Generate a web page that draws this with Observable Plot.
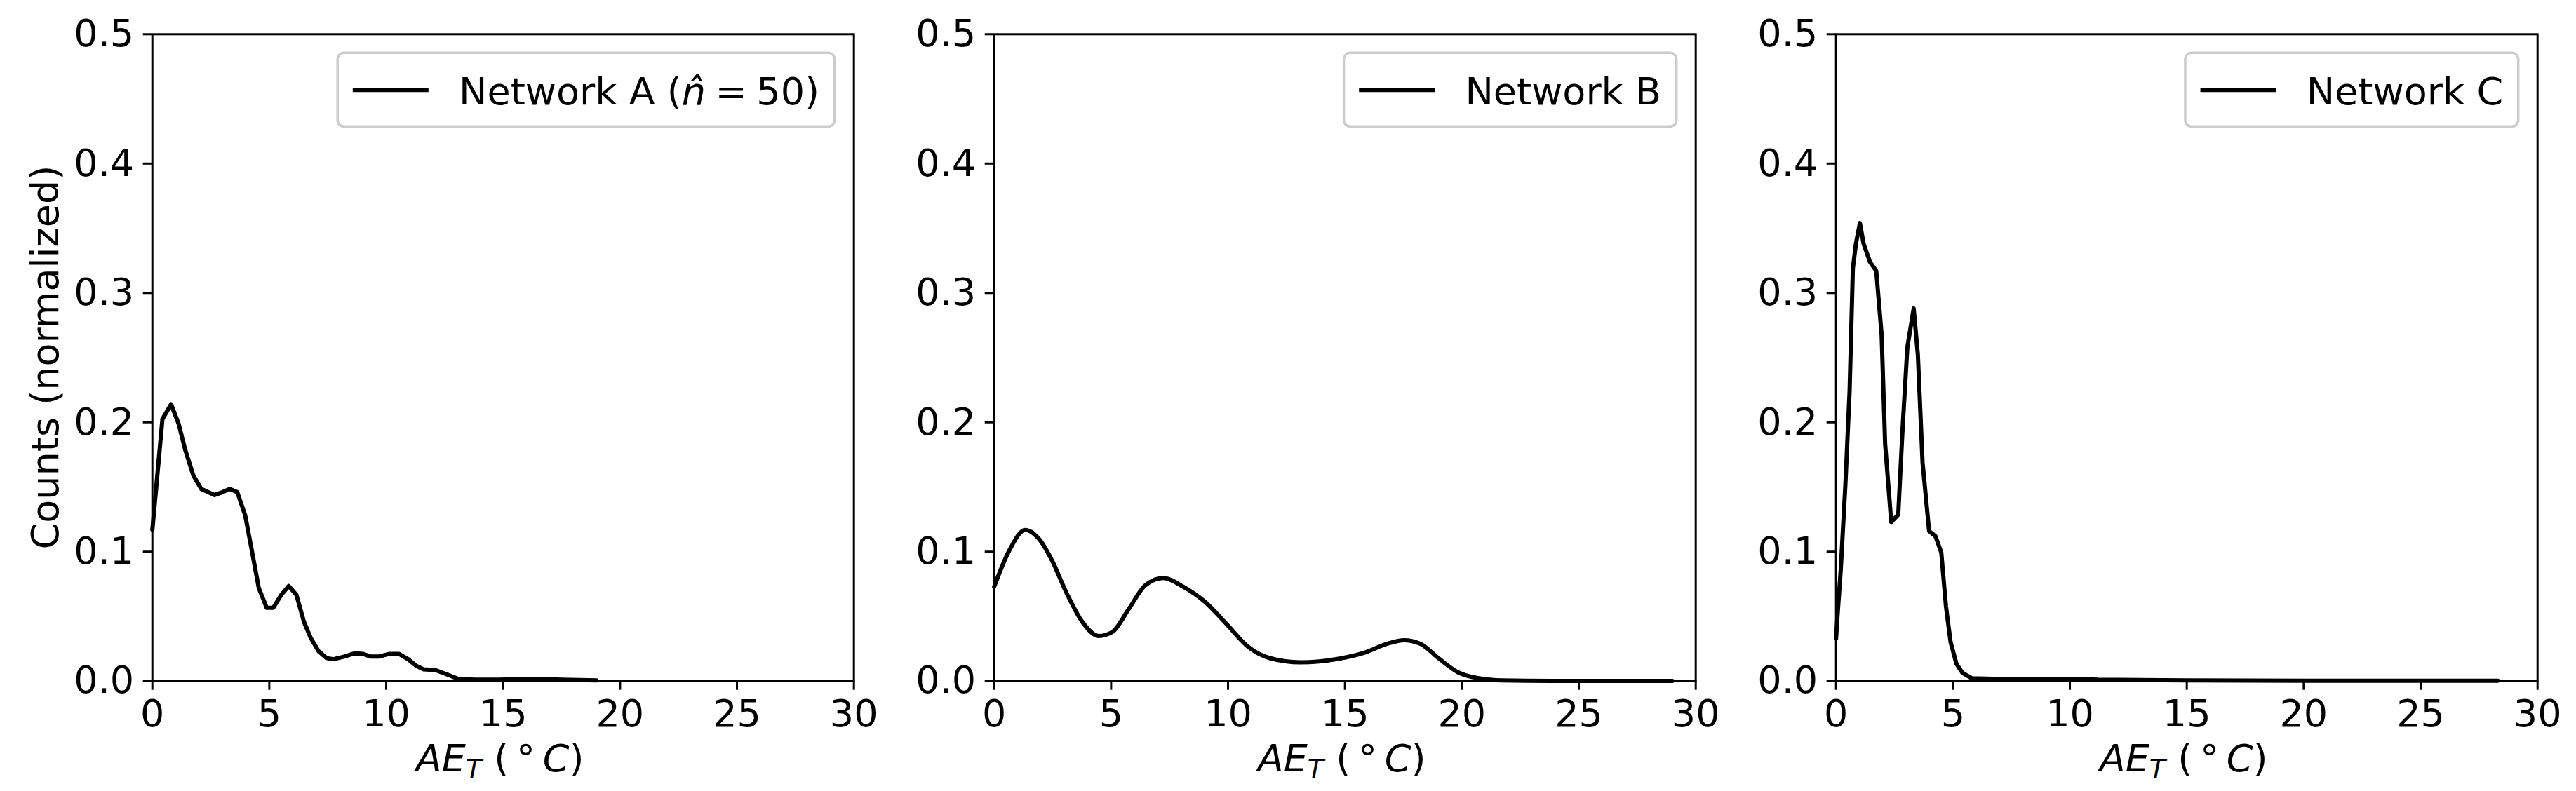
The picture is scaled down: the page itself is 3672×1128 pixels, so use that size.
<!DOCTYPE html>
<html><head><meta charset="utf-8">
<script src="https://cdn.jsdelivr.net/npm/d3@7"></script>
<script src="https://cdn.jsdelivr.net/npm/@observablehq/plot@0.6"></script>
<style>
html,body{margin:0;padding:0;background:#fff;}
#wrap{position:relative;width:3672px;height:1128px;overflow:hidden;font-family:"DejaVu Sans";background:#fff;}
#wrap svg{position:absolute;top:0;max-width:none;}
</style></head><body><div id="wrap"></div>
<script>
// ---- data ----
const xTicks = [0, 5, 10, 15, 20, 25, 30];
const yTicks = [0, 0.1, 0.2, 0.3, 0.4, 0.5];
const networkNames = ["Network A", "Network B", "Network C"];
const legendSuffix = ["\u2005=\u200550", "", ""];
const yLabel = "Counts (normalized)";

const xA = [0, 0.43, 0.8, 1.12, 1.4, 1.75, 2.09, 2.66, 3.0, 3.31, 3.63, 3.97, 4.2, 4.55, 4.89, 5.17, 5.51, 5.83, 6.16, 6.48, 6.77, 7.11, 7.45, 7.74, 8.2, 8.65, 9.0, 9.34, 9.68, 10.14, 10.54, 10.94, 11.3, 11.6, 12.1, 12.56, 13.07, 13.8, 14.8, 16.3, 17.5, 19.0];
const yA = [0.117, 0.2025, 0.214, 0.199, 0.179, 0.159, 0.1485, 0.1438, 0.146, 0.1485, 0.146, 0.128, 0.106, 0.072, 0.0566, 0.0566, 0.0666, 0.0734, 0.0666, 0.0459, 0.0334, 0.023, 0.0178, 0.0168, 0.0189, 0.0214, 0.021, 0.0189, 0.0189, 0.021, 0.021, 0.0168, 0.0116, 0.0091, 0.0085, 0.0054, 0.0017, 0.001, 0.001, 0.0017, 0.001, 0.0005];

const xB = [0, 0.63, 1.33, 1.91, 2.49, 3.07, 3.77, 4.47, 5.05, 5.75, 6.45, 7.22, 8.08, 9.01, 9.95, 10.88, 11.81, 13.09, 14.72, 15.89, 16.82, 17.52, 18.22, 19.03, 19.85, 20.78, 21.7, 23.8, 26, 29];
const yB = [0.073, 0.1004, 0.1168, 0.110, 0.0926, 0.069, 0.0457, 0.0348, 0.0379, 0.0555, 0.0738, 0.0797, 0.073, 0.0613, 0.0438, 0.0262, 0.0176, 0.0145, 0.0172, 0.0223, 0.0289, 0.0316, 0.0289, 0.0172, 0.0066, 0.002, 0.0005, 0.0001, 0.0001, 0.0001];

const xC = [0, 0.08, 0.2, 0.4, 0.58, 0.72, 0.85, 1.02, 1.18, 1.45, 1.72, 1.95, 2.1, 2.36, 2.66, 2.85, 3.05, 3.32, 3.5, 3.7, 3.98, 4.25, 4.5, 4.7, 4.9, 5.15, 5.4, 5.8, 6.7, 8.4, 10.2, 11.2, 15, 20, 28.3];
const yC = [0.0328, 0.055, 0.0856, 0.152, 0.224, 0.319, 0.338, 0.354, 0.338, 0.324, 0.317, 0.2675, 0.183, 0.123, 0.1286, 0.1967, 0.258, 0.288, 0.252, 0.169, 0.116, 0.112, 0.0994, 0.0578, 0.030, 0.0133, 0.0064, 0.0022, 0.0017, 0.0014, 0.0017, 0.001, 0.0005, 0.0003, 0.0002];

// ---- layout ----
const wrap = document.getElementById("wrap");
const W = 1240, H = 1128, ML = 216.7, MR = 23.3, MT = 48.3, MB = 157.3;
const FS = 54;
const series = [[xA, yA, "linear"], [xB, yB, "monotone-x"], [xC, yC, "linear"]];

series.forEach(([xs, ys, curve], i) => {
  const data = xs.map((x, j) => ({x, y: ys[j]}));
  const svg = Plot.plot({
    width: W, height: H,
    marginLeft: ML, marginRight: MR, marginTop: MT, marginBottom: MB,
    style: {background: "transparent", fontFamily: "DejaVu Sans", fontSize: FS + "px", color: "black", overflow: "visible"},
    x: {domain: [0, 30], label: null},
    y: {domain: [0, 0.5], label: null},
    marks: [
      Plot.axisX({ticks: xTicks, tickFormat: d => String(d), tickSize: 13, tickPadding: 13, strokeWidth: 3, fontSize: FS, label: null}),
      Plot.axisY({ticks: yTicks, tickFormat: d3.format(".1f"), tickSize: 13, tickPadding: 13, strokeWidth: 3, fontSize: FS, label: null}),
      Plot.line(data, {x: "x", y: "y", stroke: "black", strokeWidth: 6, curve, strokeLinejoin: "round"}),
      Plot.frame({stroke: "black", strokeWidth: 3})
    ]
  });
  svg.style.left = (1200 * i) + "px";
  wrap.appendChild(svg);

  const g = d3.select(svg).append("g").attr("font-family", "DejaVu Sans").attr("fill", "black");
  const right = W - MR, cx = ML + (W - ML - MR) / 2;

  // x label: AE_T (° C)
  const xl = g.append("text").attr("x", cx - 4).attr("y", 1100).attr("text-anchor", "middle").attr("font-size", FS);
  xl.append("tspan").attr("font-style", "italic").text("AE");
  xl.append("tspan").attr("font-style", "italic").attr("font-size", 38).attr("dy", 9).text("T");
  xl.append("tspan").attr("dy", -9).text(" (\u2009");
  xl.append("tspan").text("\u00b0\u2009");
  xl.append("tspan").attr("font-style", "italic").text("C");
  xl.append("tspan").text(")");

  // y label on first panel
  if (i === 0) {
    g.append("text").attr("transform", `translate(83,${MT + (H - MT - MB) / 2}) rotate(-90)`)
      .attr("text-anchor", "middle").attr("font-size", FS).text(yLabel);
  }

  // legend (upper right)
  const lg = g.append("g");
  const boxTop = MT + 27, boxH = 105;
  const rect = lg.append("rect");
  const t = lg.append("text").attr("font-size", FS).attr("text-anchor", "start").attr("y", boxTop + 74);
  if (legendSuffix[i]) {
    t.append("tspan").text(networkNames[i] + " (");
    t.append("tspan").attr("font-style", "italic").text("n\u0302");
    t.append("tspan").text(legendSuffix[i] + ")");
  } else {
    t.text(networkNames[i]);
  }
  const tw = t.node().getComputedTextLength();
  const boxW = 21.6 + 108 + 43.2 + tw + 21.6;
  const boxLeft = right - 27 - boxW;
  rect.attr("x", boxLeft).attr("y", boxTop).attr("width", boxW).attr("height", boxH)
    .attr("rx", 9).attr("fill", "white").attr("fill-opacity", 0.8)
    .attr("stroke", "#cccccc").attr("stroke-width", 3.5);
  lg.append("line").attr("x1", boxLeft + 21.6).attr("x2", boxLeft + 21.6 + 108)
    .attr("y1", boxTop + 53).attr("y2", boxTop + 53).attr("stroke", "black").attr("stroke-width", 6);
  t.attr("x", boxLeft + 21.6 + 108 + 43.2);
});
</script></body></html>
